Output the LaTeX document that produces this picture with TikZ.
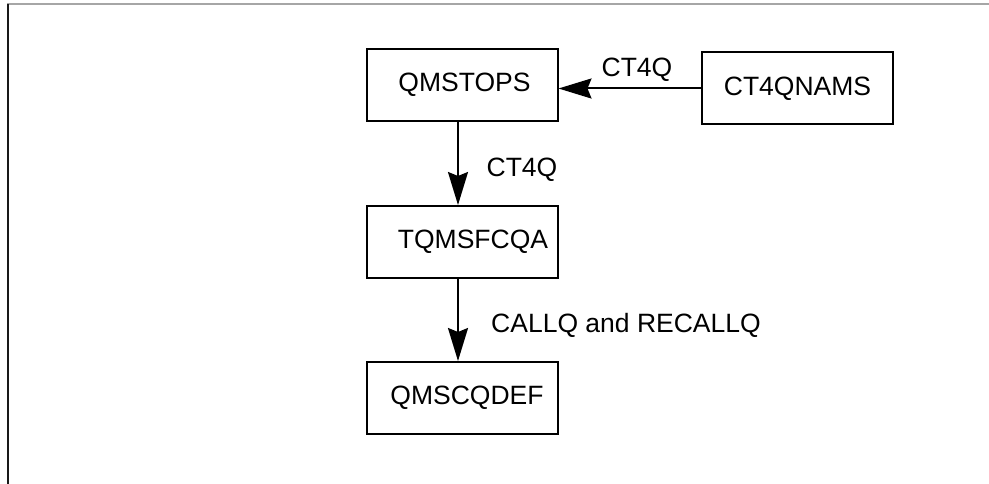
\documentclass[tikz,border=0pt]{standalone}
\usepackage{fontspec}
\setmainfont{Liberation Sans}
\usetikzlibrary{arrows.meta}
\begin{document}
\begin{tikzpicture}[x=1pt,y=-1pt,
  box/.style={draw=black,line width=2pt,minimum width=191pt,minimum height=72pt,inner sep=0pt,
    font=\fontsize{26.5}{30}\selectfont},
  lbl/.style={anchor=base,inner sep=0pt,font=\fontsize{26.5}{30}\selectfont},
  arr/.style={line width=2pt,-{Stealth[length=33pt,width=20pt,inset=4pt]}}]
\useasboundingbox (0,0) rectangle (989,484);
\draw[line width=2pt,gray!70] (7,4.5) -- (989,4.5);
\draw[line width=2pt,black!90] (7.5,4) -- (7.5,484);
\node[box] (q) at (462,85) {\hspace*{5pt}QMSTOPS};
\node[box] (c) at (797.5,88.5) {CT4QNAMS};
\node[box] (t) at (462,242) {\hspace*{22pt}TQMSFCQA};
\node[box] (d) at (462,398) {\hspace*{10pt}QMSCQDEF};
\draw[arr] (c.west) -- (c.west -| q.east);
\draw[arr] ([xshift=-4pt]q.south) -- ([xshift=-4pt]t.north);
\draw[arr] ([xshift=-4pt]t.south) -- ([xshift=-4pt]d.north);
\node[lbl] (l1) at (637,76.5) {CT4Q};
\node[lbl] (l2) at (522,176.5) {CT4Q};
\node[lbl] (l3) at (626,332.5) {CALLQ and RECALLQ};
\end{tikzpicture}
\end{document}
